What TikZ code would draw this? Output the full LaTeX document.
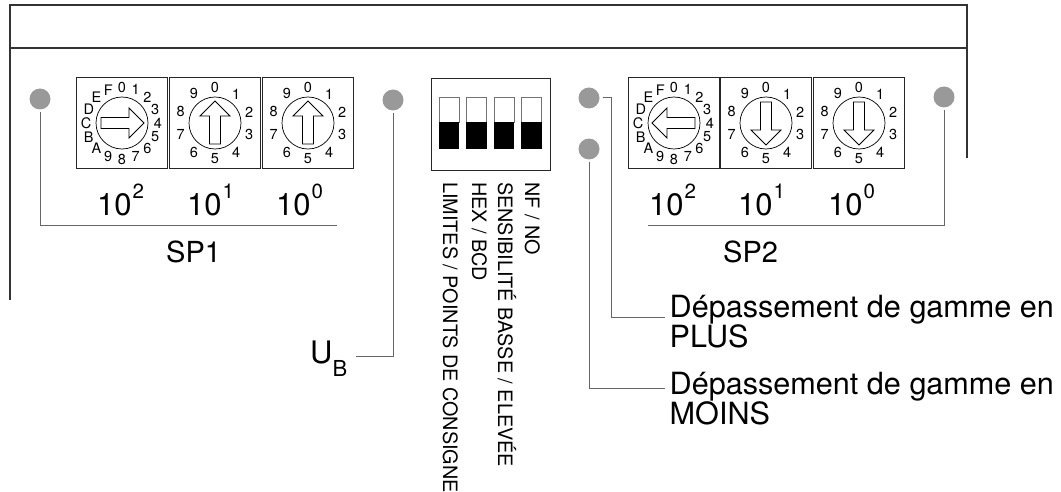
\documentclass[tikz,border=0pt]{standalone}
\usepackage{fontspec}
\setmainfont{TeX Gyre Heros}
\usetikzlibrary{positioning, calc}

\newcommand{\powten}[1]{10\kern1pt{\fontsize{20.5}{21}\selectfont\raisebox{16.5pt}{#1}}}

\begin{document}
\begin{tikzpicture}[
    x=1pt,
    y=-1pt,
    framing/.style={draw=black!80, line width=1.3pt},
    leader/.style={draw=black!60, line width=1pt},
    lamp/.style={circle, fill=black!40, minimum size=21pt, inner sep=0pt, outer sep=3pt},
    dialbox/.style={rectangle, draw=black!85, line width=0.9pt, minimum size=91.5pt, inner sep=0pt},
    knob/.style={circle, draw=black, line width=0.7pt, minimum size=52pt, inner sep=0pt},
    pointer/.style={draw=black, line width=0.8pt},
    digit/.style={font=\fontsize{14.5}{15}\selectfont, inner sep=0pt},
    bigtext/.style={font=\fontsize{29}{30}\selectfont, inner sep=0pt, anchor=base west},
    powtext/.style={font=\fontsize{31}{31}\selectfont, inner sep=0pt, anchor=base west},
    sidetext/.style={font=\fontsize{30.6}{30}\selectfont, inner sep=0pt, align=left, anchor=north west},
    diplabel/.style={font=\fontsize{19.8}{20}\selectfont, inner sep=0pt, rotate=-90, anchor=base west},
    dipoff/.style={rectangle, draw=black!55, line width=0.8pt, fill=white, minimum width=20pt, minimum height=25pt, inner sep=0pt},
    dipon/.style={rectangle, fill=black, minimum width=20.5pt, minimum height=27pt, inner sep=0pt}
]
\useasboundingbox (0,0) rectangle (1061,492);

% Housing
\draw[framing] (10,300) -- (10,5) -- (967,5) -- (967,158);
\draw[framing] (10,48) -- (967,48);

% Hexadecimal dials
\foreach \nm/\cx/\rot in {hexone/122/-90, hextwo/674/90} {
    \node[dialbox] (\nm) at (\cx,123) {};
    \node[knob] (\nm k) at (\cx,123) {};
    \draw[pointer, shift={(\cx,123)}, rotate=\rot] (0,-22) -- (15,-7) -- (5.5,-7) -- (5.5,21) -- (-5.5,21) -- (-5.5,-7) -- (-15,-7) -- cycle;
    \foreach \txt [count=\i from 0] in {0,1,2,3,4,5,6,7,8,9,A,B,C,D,E,F} {
        \node[digit] (\nm-\i) at ($(\cx,123)+(-90+\i*22.5:36)$) {\txt};
    }
}

% Decimal dials
\foreach \nm/\cx/\rot in {decone/215/0, dectwo/308/0, decthree/766/180, decfour/859/180} {
    \node[dialbox] (\nm) at (\cx,123) {};
    \node[knob] (\nm k) at (\cx,123) {};
    \draw[pointer, shift={(\cx,123)}, rotate=\rot] (0,-22) -- (15,-7) -- (5.5,-7) -- (5.5,21) -- (-5.5,21) -- (-5.5,-7) -- (-15,-7) -- cycle;
    \foreach \i in {0,...,9} {
        \node[digit] (\nm-\i) at ($(\cx,123)+(-90+\i*36:36)$) {\i};
    }
}

% Dial captions
\node[powtext] (powAtwo) at (97,215) {\powten{2}};
\node[powtext] (powAone) at (187,215) {\powten{1}};
\node[powtext] (powAzero) at (276,215) {\powten{0}};
\node[powtext] (powBtwo) at (649,215) {\powten{2}};
\node[powtext] (powBone) at (738,215) {\powten{1}};
\node[powtext] (powBzero) at (828,215) {\powten{0}};
\node[bigtext] (spone) at (166,262) {SP1};
\node[bigtext] (sptwo) at (723,262) {SP2};

% DIP switch block
\node[rectangle, draw=black!85, line width=0.9pt, minimum width=119pt, minimum height=92pt, inner sep=0pt] (dip) at (490.5,124) {};
\foreach \i/\cx in {1/449, 2/476.5, 3/504, 4/531.5} {
    \node[dipoff] (slot\i) at (\cx,109.5) {};
    \node[dipon] (lever\i) at (\cx,135.5) {};
}
\node[diplabel] (limits) at (443,182) {LIMITES / POINTS DE CONSIGNE};
\node[diplabel] (hexbcd) at (472,182) {HEX / BCD};
\node[diplabel] (sens) at (498,182) {SENSIBILITÉ BASSE / ELEVÉE};
\node[diplabel] (nfno) at (525,182) {NF / NO};

% Indicator lamps
\node[lamp] (lampone) at (40,99) {};
\node[lamp] (lampub) at (393,100) {};
\node[lamp] (lampplus) at (589,98) {};
\node[lamp] (lampmoins) at (589,149) {};
\node[lamp] (lamptwo) at (944,97) {};

% Outer texts
\node[powtext] (ubtext) at (310,363) {U{\fontsize{22}{22}\selectfont\raisebox{-13pt}{B}}};
\node[sidetext] (plustext) at (669.5,294.5) {Dépassement de gamme en\\PLUS};
\node[sidetext] (moinstext) at (669.5,372) {Dépassement de gamme en\\MOINS};

% Leader ends
\coordinate (endone) at (337,225);
\coordinate (endtwo) at (648,225);
\coordinate (endub) at (356,356);
\coordinate (kneeplus) at (611,317);
\coordinate (endplus) at (665,317);
\coordinate (endmoins) at (665,388);

% Leaders
\draw[leader] (lampone.south) |- (endone);
\draw[leader] (lamptwo.south) |- (endtwo);
\draw[leader] (lampub.south) |- (endub);
\draw[leader] (lampplus.east) -| (kneeplus) -- (endplus);
\draw[leader] (lampmoins.south) |- (endmoins);

\end{tikzpicture}
\end{document}
